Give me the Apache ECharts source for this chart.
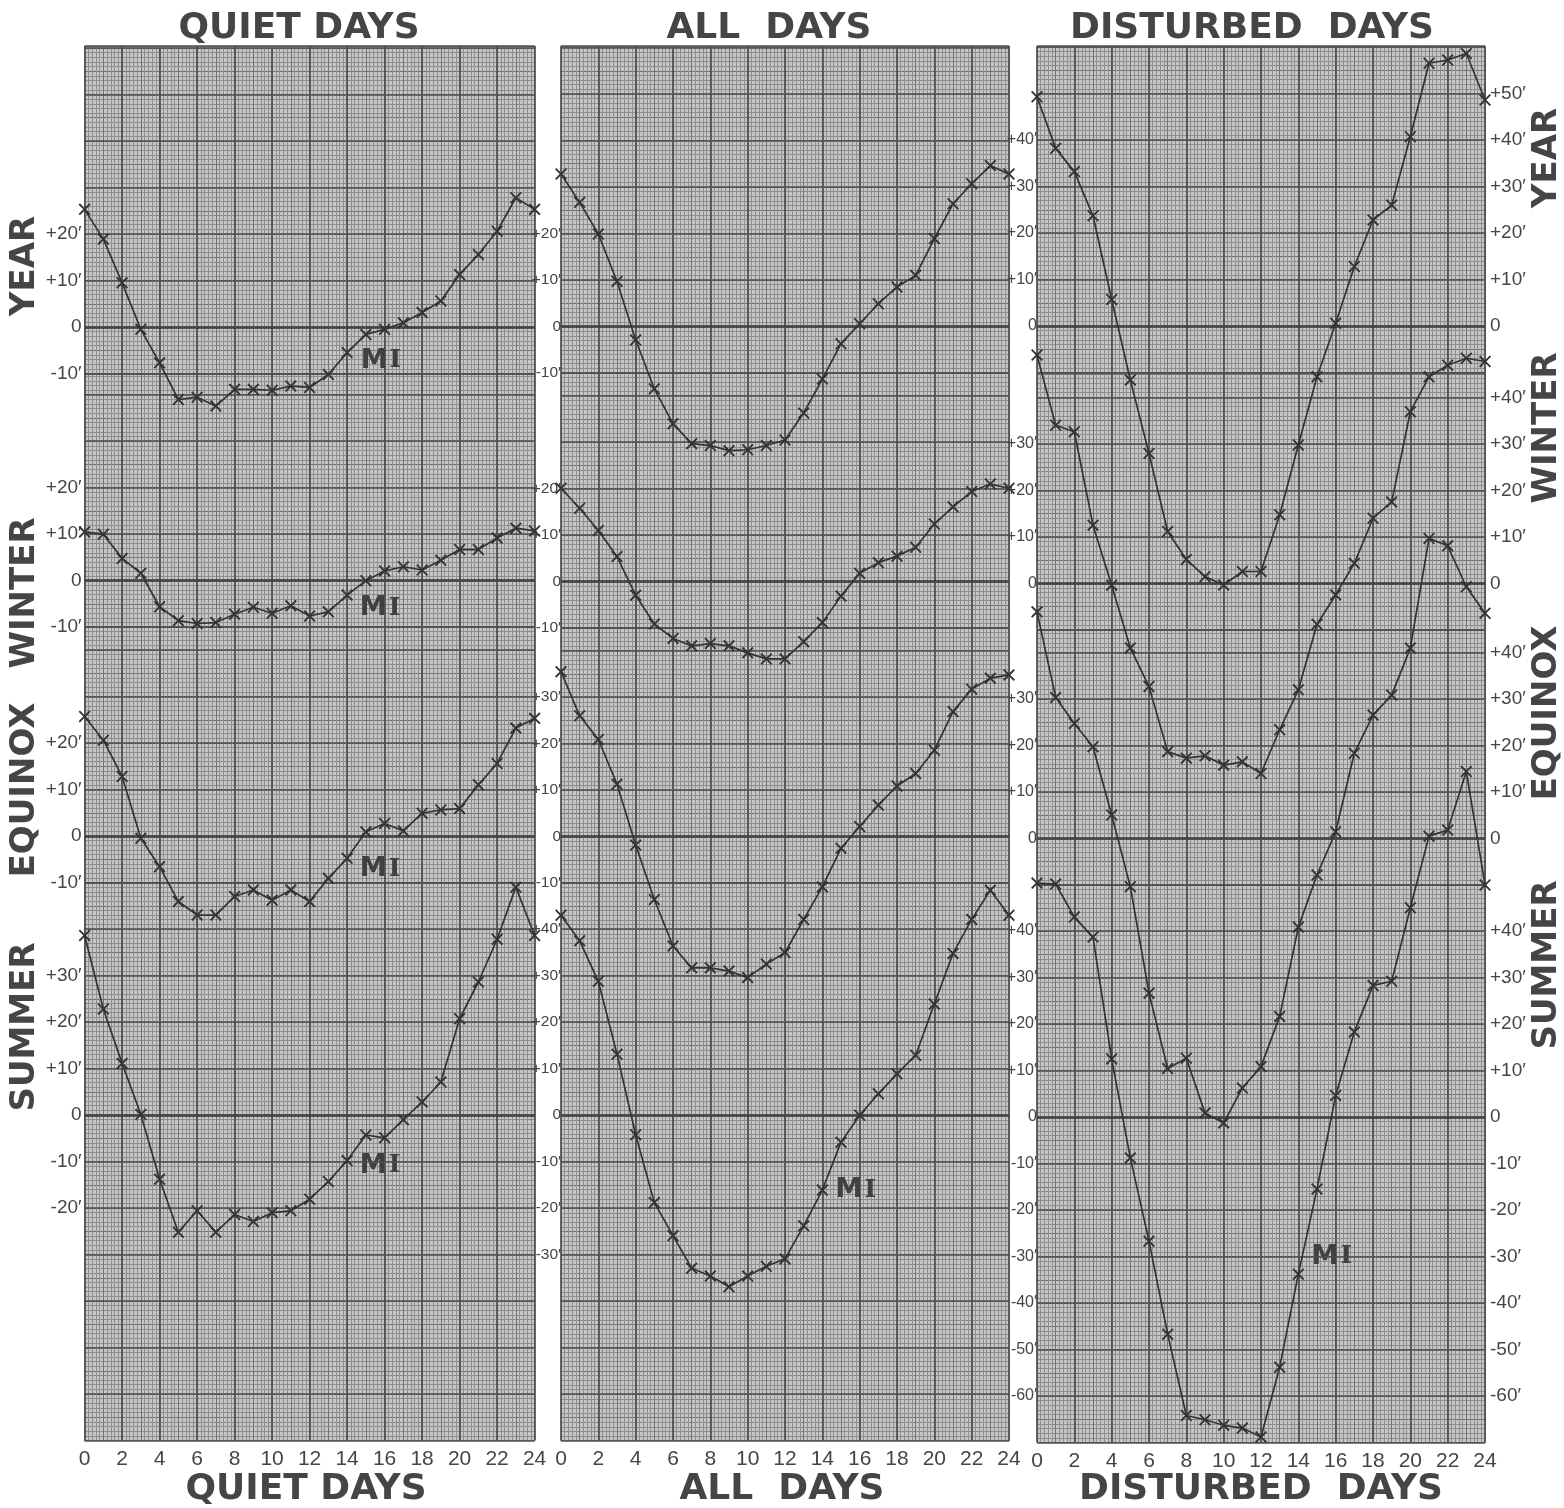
<!DOCTYPE html>
<html><head><meta charset="utf-8">
<script src="https://cdn.jsdelivr.net/npm/echarts/dist/echarts.min.js"></script>
<style>html,body{margin:0;padding:0;background:#fff}#c{width:1564px;height:1508px}</style>
</head><body><div id="c"></div>
<script>
// ---------------- DATA ----------------
const HOURS = [0,1,2,3,4,5,6,7,8,9,10,11,12,13,14,15,16,17,18,19,20,21,22,23,24];
const PANEL_TITLES = ['QUIET DAYS', 'ALL  DAYS', 'DISTURBED  DAYS'];
const SEASONS = ['YEAR', 'WINTER', 'EQUINOX', 'SUMMER'];

const QUIET_YEAR    = [25.3,18.9,9.5,-0.5,-7.7,-15.6,-15.1,-17.0,-13.4,-13.4,-13.6,-12.7,-13.0,-10.2,-5.5,-1.6,-0.5,0.9,3.1,5.6,11.3,15.6,20.6,27.8,25.3];
const QUIET_WINTER  = [10.5,10.0,4.8,1.6,-5.6,-8.6,-9.2,-9.0,-7.2,-5.7,-7.0,-5.4,-7.6,-6.7,-3.1,0.0,2.1,3.0,2.3,4.4,6.7,6.7,9.2,11.3,10.7];
const QUIET_EQUINOX = [25.7,20.6,12.8,-0.5,-6.6,-14.1,-17.0,-17.0,-13.0,-11.6,-13.8,-11.6,-14.1,-9.1,-4.8,0.9,2.7,1.1,4.9,5.6,5.9,11.0,15.6,23.2,25.3];
const QUIET_SUMMER  = [38.6,22.8,11.1,0.1,-13.8,-25.2,-20.6,-25.2,-21.4,-22.9,-21.0,-20.6,-18.1,-14.3,-9.8,-4.3,-4.9,-1.0,2.8,7.1,20.7,28.6,37.8,49.0,38.6];

const ALL_YEAR      = [32.8,26.7,19.9,9.7,-2.9,-13.4,-20.9,-25.2,-25.6,-26.7,-26.5,-25.6,-24.4,-18.6,-11.3,-3.7,0.6,4.9,8.5,11.0,18.9,26.4,30.7,34.6,32.8];
const ALL_WINTER    = [20.1,15.8,11.0,5.4,-2.9,-9.1,-12.2,-13.8,-13.3,-13.8,-15.3,-16.6,-16.6,-12.9,-8.8,-3.1,1.8,4.1,5.5,7.4,12.4,16.1,19.4,21.0,20.1];
const ALL_EQUINOX   = [35.5,26.0,20.9,11.3,-1.8,-13.5,-23.5,-28.2,-28.2,-28.9,-30.3,-27.4,-24.9,-17.8,-10.8,-2.5,2.2,6.8,10.9,13.6,18.6,26.9,31.7,34.1,34.8];
const ALL_SUMMER    = [43.0,37.5,28.8,13.1,-4.2,-18.8,-25.9,-32.9,-34.6,-36.9,-34.6,-32.5,-30.9,-23.8,-16.1,-5.8,0.0,4.6,8.9,12.9,23.9,34.8,42.1,48.4,43.0];

const DIST_YEAR     = [49.3,38.2,33.2,23.7,5.7,-11.6,-27.4,-44.2,-50.2,-53.9,-55.7,-52.8,-52.8,-40.6,-25.6,-10.9,0.6,12.8,22.8,26.0,40.7,56.5,57.2,58.6,48.6];
const DIST_WINTER   = [49.1,34.0,32.6,12.5,-0.4,-13.9,-22.2,-36.2,-37.6,-37.1,-39.1,-38.4,-40.9,-31.5,-22.9,-8.8,-2.5,4.3,14.0,17.5,36.9,44.4,46.9,48.4,47.7];
const DIST_EQUINOX  = [48.7,30.3,24.7,19.7,5.0,-10.4,-33.3,-49.5,-47.3,-59.1,-61.2,-53.7,-49.1,-38.3,-19.1,-7.9,1.4,18.3,26.5,30.8,40.9,64.5,62.9,54.1,48.4];
const DIST_SUMMER   = [50.3,50.1,43.0,38.7,12.5,-8.8,-26.7,-46.7,-64.2,-65.1,-66.3,-66.9,-68.8,-53.8,-33.8,-15.5,4.6,18.3,28.3,29.2,45.0,60.4,61.7,74.3,49.9];

// tick labels (values shown) left / right of each panel, per season
const QUIET_LEFT_TICKS = [[20,10,0,-10],[20,10,0,-10],[20,10,0,-10],[30,20,10,0,-10,-20]];
const ALL_LEFT_TICKS   = [[20,10,0,-10],[20,10,0,-10],[30,20,10,0,-10],[40,30,20,10,0,-10,-20,-30]];
const DIST_LEFT_TICKS  = [[40,30,20,10,0],[30,20,10,0],[30,20,10,0],[40,30,20,10,0,-10,-20,-30,-40,-50,-60]];
const DIST_RIGHT_TICKS = [[50,40,30,20,10,0],[40,30,20,10,0],[40,30,20,10,0],[40,30,20,10,0,-10,-20,-30,-40,-50,-60]];

// "M I" annotation anchors (hour, value)
const QUIET_MI = [[14.7,-7.3],[14.65,-5.9],[14.65,-7.1],[14.65,-10.9]];
const ALL_MI   = [[14.68,-14.2],[14.73,-10.6],[14.73,-10.8],[14.68,-16.1]];
const DIST_MI  = [[14.68,-25.0],[14.68,-20.8],[14.68,-18.6],[14.68,-30.0]];

// ---------------- LAYOUT / STYLE ----------------
const UNIT = 4.65;           // px per unit (10 units = one major square)
const TOP = 46;
const PANEL_LEFT = [84.6, 561, 1037];
const PANEL_WIDTH = [450, 448, 448];
const ZERO_Y = [[327,580.7,836,1115],[326.5,581.7,836.7,1115.2],[326,583.3,838.3,1117]];
const BAND_MIN = [-10,-10,-10,-70];
const PAPER = '#c6c6c6', FINE = '#8e8e8e', MED = '#727272', MAJOR = '#4e4e4e', INK = '#333333', TEXT = '#454545';
const XSYM = 'path://M0,1.1L1.1,0L5,3.9L8.9,0L10,1.1L6.1,5L10,8.9L8.9,10L5,6.1L1.1,10L0,8.9L3.9,5Z';

const PANEL_DATA = [
  [QUIET_YEAR, QUIET_WINTER, QUIET_EQUINOX, QUIET_SUMMER],
  [ALL_YEAR, ALL_WINTER, ALL_EQUINOX, ALL_SUMMER],
  [DIST_YEAR, DIST_WINTER, DIST_EQUINOX, DIST_SUMMER]
];
const LEFT_TICKS = [QUIET_LEFT_TICKS, ALL_LEFT_TICKS, DIST_LEFT_TICKS];
const RIGHT_TICKS = [null, null, DIST_RIGHT_TICKS];
const MI_AT = [QUIET_MI, ALL_MI, DIST_MI];
const LEFT_LABEL_STYLE = [
  {margin: 3, fontSize: 19},
  {margin: 0, fontSize: 15.5},
  {margin: 0, fontSize: 16}
];

function fmt(v) { return v === 0 ? '0' : (v > 0 ? '+' : '-') + Math.abs(v) + '\u2032'; }

const grids = [], xAxes = [], yAxes = [], series = [];
for (let p = 0; p < 3; p++) {
  let prevBottom = TOP;
  for (let c = 0; c < 4; c++) {
    const b = p * 4 + c;
    const zero = ZERO_Y[p][c];
    const top = prevBottom;
    const bottom = zero - BAND_MIN[c] * UNIT;
    prevBottom = bottom;
    const ymin = BAND_MIN[c];
    const ymax = (zero - top) / UNIT;
    grids.push({left: PANEL_LEFT[p], width: PANEL_WIDTH[p], top: top, height: bottom - top,
      show: true, backgroundColor: PAPER, borderWidth: 0, containLabel: false, z: 0});

    const xb = {type: 'value', gridIndex: b, min: 0, max: 24, axisLine: {show: false},
      axisTick: {show: false}, axisLabel: {show: false}};
    xAxes.push(Object.assign({}, xb, {interval: 0.2, position: 'top', splitLine: {show: true, lineStyle: {color: FINE, width: 1}}}));
    xAxes.push(Object.assign({}, xb, {interval: 1, position: 'top', splitLine: {show: true, lineStyle: {color: MED, width: 1}}}));
    xAxes.push(Object.assign({}, xb, {interval: 2, position: 'bottom', z: 3,
      splitLine: {show: true, lineStyle: {color: MAJOR, width: 1.7}},
      axisLabel: c === 3 ? {show: true, fontSize: 21, color: TEXT, margin: 8, fontFamily: 'Liberation Sans'} : {show: false}}));

    const yb = {type: 'value', gridIndex: b, min: ymin, max: ymax, axisLine: {show: false},
      axisTick: {show: false}, axisLabel: {show: false}, splitLine: {show: false}};
    yAxes.push(Object.assign({}, yb, {interval: 1, position: 'left', splitLine: {show: true, lineStyle: {color: FINE, width: 1}}}));
    yAxes.push(Object.assign({}, yb, {interval: 5, position: 'left', splitLine: {show: true, lineStyle: {color: MED, width: 1}}}));
    const lt = LEFT_TICKS[p][c];
    yAxes.push(Object.assign({}, yb, {interval: 10, position: 'left', z: 6,
      splitLine: {show: true, lineStyle: {color: MAJOR, width: 1.7}},
      axisLabel: {show: true, margin: LEFT_LABEL_STYLE[p].margin, fontSize: LEFT_LABEL_STYLE[p].fontSize,
        color: TEXT, fontFamily: 'Liberation Sans',
        showMinLabel: true, showMaxLabel: true,
        formatter: function (v) { return lt.indexOf(Math.round(v * 1000) / 1000) >= 0 ? fmt(v) : ''; }}}));
    const rt = RIGHT_TICKS[p] ? RIGHT_TICKS[p][c] : null;
    yAxes.push(Object.assign({}, yb, {interval: 10, position: 'right', z: 6,
      axisLabel: rt ? {show: true, margin: 5, fontSize: 19, color: TEXT, fontFamily: 'Liberation Sans',
        showMinLabel: true, showMaxLabel: true,
        formatter: function (v) { return rt.indexOf(Math.round(v * 1000) / 1000) >= 0 ? fmt(v) : ''; }} : {show: false}}));

    const vals = PANEL_DATA[p][c];
    series.push({
      type: 'line', name: PANEL_TITLES[p] + ' ' + SEASONS[c],
      xAxisIndex: b * 3 + 2, yAxisIndex: b * 4 + 2,
      data: HOURS.map((h, i) => [h, vals[i]]),
      clip: false, symbol: XSYM, symbolSize: 12, showAllSymbol: true,
      lineStyle: {color: INK, width: 1.7}, itemStyle: {color: INK}, z: 10,
      markLine: {silent: true, symbol: 'none', label: {show: false},
        lineStyle: {color: '#333333', width: 2.5, type: 'solid'}, data: [{yAxis: 0}]},
      markPoint: {silent: true, symbol: 'rect', symbolSize: 1, itemStyle: {color: 'rgba(0,0,0,0)'},
        data: [{coord: MI_AT[p][c], value: 'MI'}],
        label: {show: true, position: 'right', distance: 0,
          formatter: '{m|M}{i|I}',
          rich: {
            m: {fontFamily: 'DejaVu Sans', fontWeight: 'bold', fontSize: 27, color: '#404040'},
            i: {fontFamily: 'DejaVu Serif', fontWeight: 'bold', fontSize: 25, color: '#404040', padding: [0, 0, 0, 2]}
          }}}
    });
  }
}

// titles and side labels
const TITLE_FONT = 'bold 36px "DejaVu Sans"';
const SIDE_FONT = 'bold 34px "DejaVu Sans"';
function txt(text, x, y, font, rot) {
  return {type: 'text', x: x, y: y, rotation: rot || 0, z: 20, silent: true,
    style: {text: text, font: font, fill: TEXT, align: 'center', verticalAlign: 'middle',
      textAlign: 'center', textVerticalAlign: 'middle'}};
}
const TITLE_X_TOP = [299, 769, 1252];
const TITLE_X_BOTTOM = [306, 782, 1261];
const SIDE_LEFT_Y = [266, 593, 790, 1027];
const SIDE_RIGHT_Y = [158, 428, 713, 965];
const graphic = [];
for (let p = 0; p < 3; p++) {
  graphic.push(txt(PANEL_TITLES[p], TITLE_X_TOP[p], 29, TITLE_FONT));
  graphic.push(txt(PANEL_TITLES[p], TITLE_X_BOTTOM[p], 1490, TITLE_FONT));
}
for (let c = 0; c < 4; c++) {
  graphic.push(txt(SEASONS[c], 25, SIDE_LEFT_Y[c], SIDE_FONT, Math.PI / 2));
  graphic.push(txt(SEASONS[c], 1547, SIDE_RIGHT_Y[c], SIDE_FONT, Math.PI / 2));
}

const chart = echarts.init(document.getElementById('c'), null, {renderer: 'canvas'});
chart.setOption({
  backgroundColor: '#ffffff',
  animation: false,
  grid: grids, xAxis: xAxes, yAxis: yAxes, series: series, graphic: graphic
});
</script></body></html>
